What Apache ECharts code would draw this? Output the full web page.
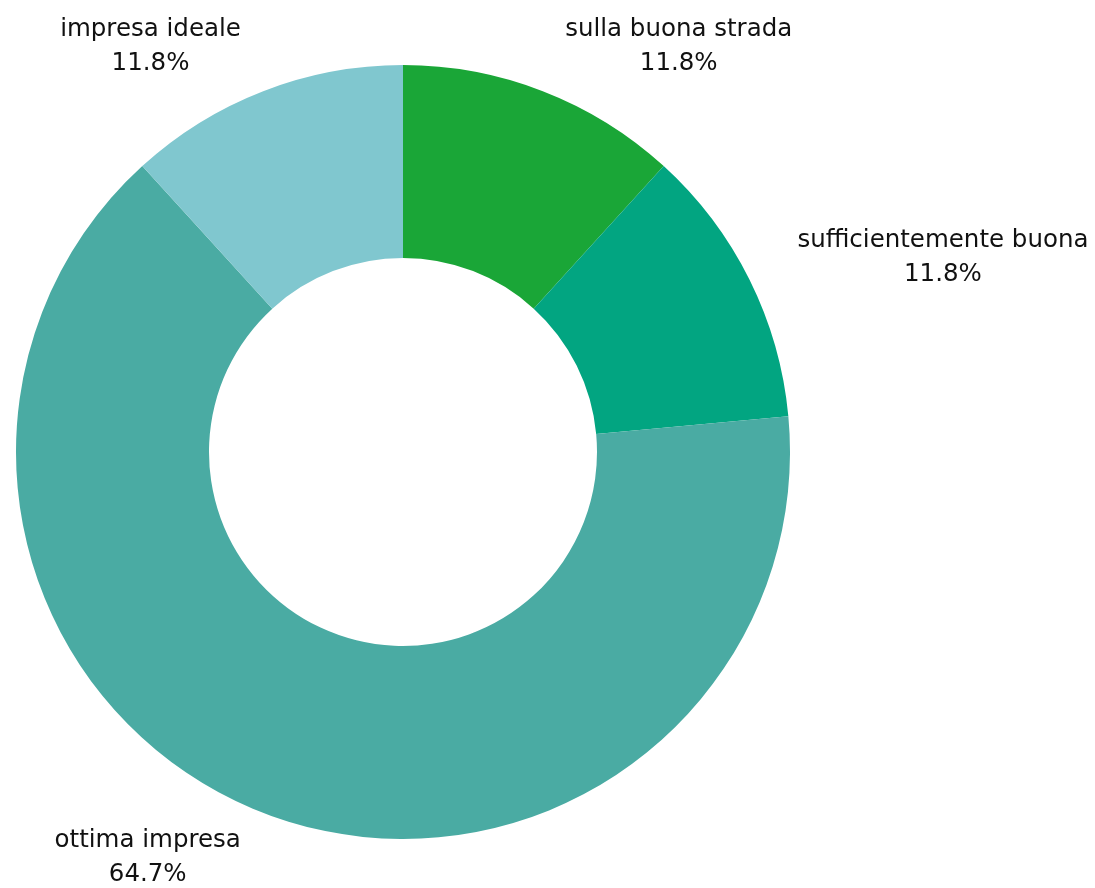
<!DOCTYPE html>
<html>
<head>
<meta charset="utf-8">
<script src="https://cdn.jsdelivr.net/npm/echarts@6/dist/echarts.min.js"></script>
<style>
  html, body { margin: 0; padding: 0; background: #fff; }
  #chart { width: 1095px; height: 888px; }
</style>
</head>
<body>
<div id="chart"></div>
<script>
const categories = ['sulla buona strada', 'sufficientemente buona', 'ottima impresa', 'impresa ideale'];
const values = [2, 2, 11, 2];
const colors = ['#1aa637', '#02a581', '#4aaba3', '#80c7cf'];

const total = values.reduce((a, b) => a + b, 0);

const element = document.getElementById('chart');
if (element) {
  echarts.init(element).setOption({
    animation: false,
    series: [
      {
        type: 'pie',
        center: [403, 452],
        radius: [194, 387],
        startAngle: 90,
        clockwise: true,
        avoidLabelOverlap: false,
        itemStyle: { borderWidth: 0 },
        label: {
          show: true,
          position: 'outside',
          formatter: (p) => '{a|' + p.name + '}\n{a|' + (p.value / total * 100).toFixed(1) + '%}',
          rich: {
            a: {
              align: 'center',
              fontFamily: 'DejaVu Sans',
              fontSize: 24.5,
              lineHeight: 34,
              color: '#111111',
            },
          },
        },
        labelLine: {
          show: false,
          length: 48,
          length2: 0,
        },
        data: categories.map((name, i) => ({
          name,
          value: values[i],
          itemStyle: { color: colors[i] },
        })),
      },
    ],
  });
}
</script>
</body>
</html>
